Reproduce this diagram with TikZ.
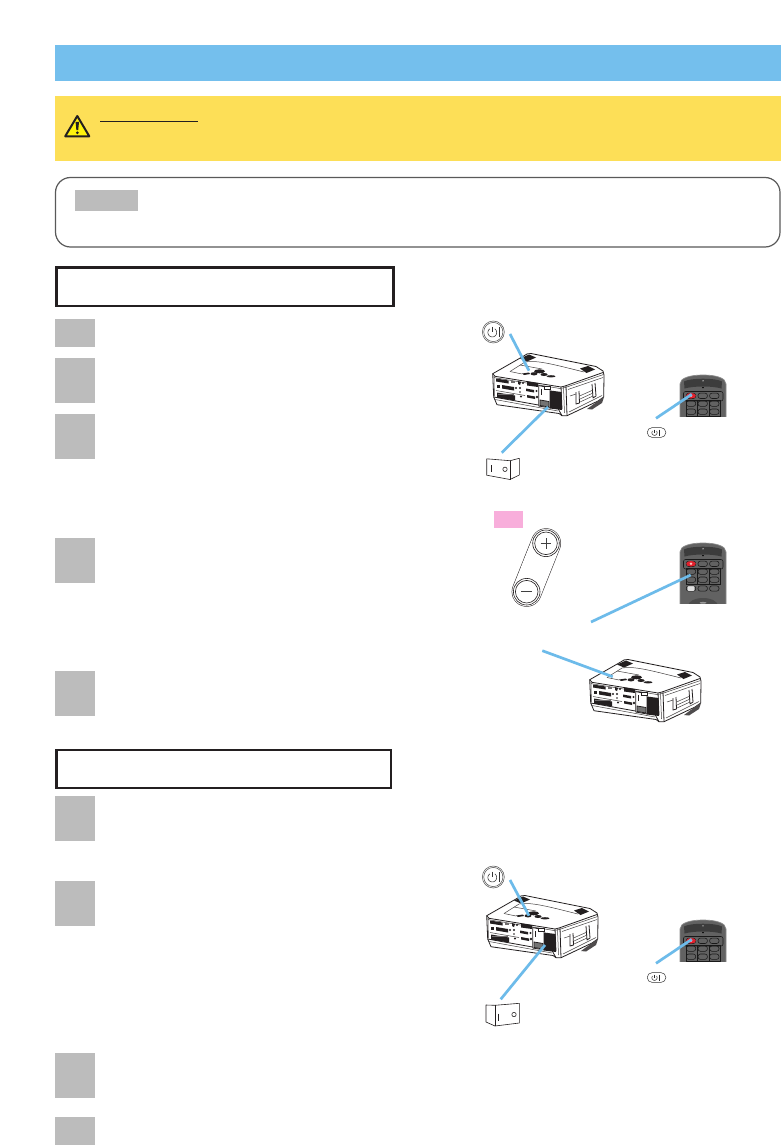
\documentclass[tikz,border=0pt]{standalone}
\definecolor{bannerblue}{HTML}{74BFED}
\definecolor{leaderblue}{HTML}{6DBBEA}
\definecolor{warnyellow}{HTML}{FDDF57}
\definecolor{stepgray}{HTML}{BCBCBC}
\definecolor{tagpink}{HTML}{F8AEDB}
\definecolor{inkdark}{HTML}{231F20}
\definecolor{remotebody}{HTML}{626262}
\definecolor{remotecap}{HTML}{3C3C3C}
\definecolor{remotered}{HTML}{E2202C}
\tikzset{
  band/.style={draw=none},
  stepbox/.style={fill=stepgray,draw=none},
  framebox/.style={draw=inkdark,line width=2.6pt,fill=white},
  notebox/.style={draw=black!65,line width=1.2pt,rounded corners=15pt,fill=white},
  leader/.style={draw=leaderblue,line width=2.7pt},
  ink/.style={draw=inkdark,line width=.8pt,line join=round},
  thinink/.style={draw=inkdark!85,line width=.5pt,line join=round},
  solidink/.style={fill=inkdark,draw=none},
  greyink/.style={fill=inkdark!65,draw=none},
  rkey/.style={draw=black!90,line width=.55pt,rounded corners=2.4pt},
}
\newcommand{\projector}[2]{%
\begin{scope}[shift={(#1,#2)}]
  % body silhouette
  \path[ink,fill=white] (.7,20.7) -- (31.7,3) .. controls (34,1) and (36,.3) .. (39,.5) -- (104,13.5) -- (111,18) -- (112,22) -- (111.7,44) -- (106,48) -- (75,62.7) -- (70,62.7) -- (67,60.5) -- (5,51.7) -- (1.7,44) -- cycle;
  % rim
  \draw[ink] (.7,20.7) -- (3,23.3) -- (69,34) -- (73,33) -- (111,19.5);
  \draw[thinink] (1.5,23) -- (3,24.8) -- (68,35.5) -- (73,34.6) -- (111.5,21.5);
  \draw[ink] (1.7,44) -- (66,55.5) -- (70,62.7);
  \draw[thinink] (3,46.5) -- (66,58);
  \draw[thinink] (2,24) -- (2.4,43);
  \draw[ink] (69,34) -- (70,56);
  \draw[ink] (74,33) -- (75,62.7);
  \draw[thinink] (76,36.5) -- (111,24.5);
  \draw[thinink] (77,59) -- (110,42.5);
  \draw[thinink] (71.5,34) -- (72.5,60);
  % top face details
  \draw[thinink] (18,18.5) -- (33,9) .. controls (45,7) and (60,11) .. (92,19);
  \draw[thinink] (18,18.5) -- (30,21);
  \draw[thinink] (28,12) -- (50,16);
  \path[solidink] (28,5.5) -- (37,1.5) -- (44,4.5) -- (35,8.5) -- cycle;
  \path[solidink] (88,15.5) -- (96,13) -- (103,16.5) -- (94.5,20) -- cycle;
  % control cluster on top
  \path[solidink] (42,20.8) ellipse (3.5 and 1.6);
  \path[solidink] (47.5,18.3) ellipse (5.5 and 2);
  \path[solidink] (52,21.5) ellipse (3.5 and 1.5);
  \path[solidink] (59,23.3) ellipse (4.5 and 1.1);
  \path[solidink] (30,20.5) -- (37,19.5) -- (38,21) -- (32,22) -- cycle;
  % connector panel
  \path[solidink] (4,25.5) -- (16.5,27.5) -- (16.5,30.5) -- (4,28.5) -- cycle;
  \path[greyink] (19,28) rectangle (23,30);
  \path[solidink] (5,32) rectangle (7.5,34.5);
  \path[solidink] (10,32) -- (22,34) -- (22,37.5) -- (10,35.5) -- cycle;
  \path[solidink] (24,35) circle (1.2);
  \path[solidink] (26,28) -- (29,29) -- (28,32) -- (26,31) -- cycle;
  \path[solidink] (31,30) circle (1.1);
  \path[solidink] (28,35) circle (1.1);
  \path[solidink] (35,28.5) -- (46,30) -- (46,34) -- (35,32.5) -- cycle;
  \path[solidink] (34,35.5) -- (42,37) -- (42,39.5) -- (34,38) -- cycle;
  \path[solidink] (44.5,38) circle (1.2);
  \path[solidink] (5,39.5) -- (23,42.5) -- (23,47.5) -- (5,44.7) -- cycle;
  \path[greyink] (6,41) rectangle (22,41.6);
  \path[solidink] (29,43.5) circle (1.1);
  \path[solidink] (35,42) -- (43,43.5) -- (43,46) -- (35,44.5) -- cycle;
  \path[solidink] (45,44) circle (1.4);
  \path[solidink] (28,39) circle (.9);
  \draw[thinink] (4,37.5) -- (33,42.5);
  % power inlet and vent
  \path[ink,fill=white] (46.7,32.5) -- (58,35) -- (58,55) -- (46.7,53) -- cycle;
  \draw[ink] (49,36) -- (49,41.5);
  \path[ink,fill=black!55] (48,47) -- (57,48.5) -- (57,54) -- (48,52.5) -- cycle;
  \path[draw=inkdark,line width=.5pt,fill=white] (52,32.8) rectangle (58,36);
  \path[solidink] (58,37.5) -- (69.5,39) -- (70,57) -- (58,55.5) -- cycle;
  % side handle
  \draw[ink] (84,39) -- (84,51) -- (87.5,50) -- (87,38);
  \draw[ink] (100,31) -- (101,45) -- (104,43) -- (103,30);
  \draw[thinink] (87.5,43) -- (101,37);
  \draw[thinink] (88,46) -- (101,40);
  \draw[thinink] (88,49) -- (101,43);
  \draw[thinink] (78,43) -- (84,41);
  \path[fill=inkdark!80] (95,56) -- (110,45) -- (112,44) -- (110,50) -- (100,56.5) -- cycle;
\end{scope}}
\newcommand{\remote}[3]{%
\begin{scope}[shift={(#1,#2)}]
  \clip (-1,-1) rectangle (47,#3);
  \path[draw=black!45,line width=.7pt,fill=remotebody]
     (0,70) -- (0,9) .. controls (0,3) and (10,0) .. (23,0) .. controls (36,0) and (46,3) .. (46,9) -- (46,70) -- cycle;
  \path[fill=remotecap] (4.5,13.5) -- (4,6.5) .. controls (10,2.8) and (36,2.8) .. (42,6.5) -- (41.5,13.5) .. controls (32,10.8) and (14,10.8) .. (4.5,13.5) -- cycle;
  \path[fill=white!70!black] (23,5.8) circle (.8);
  \path[fill=black] (23,12.5) circle (.9);
  \draw[black!90,line width=.55pt,rounded corners=2pt] (3.5,16.5) rectangle (43,26);
  \draw[black!90,line width=.55pt] (6.3,25) rectangle (40.5,41.2);
  \draw[black!90,line width=.55pt] (17.5,25) -- (17.5,41.2) (29,25) -- (29,41.2);
  \foreach \ky in {20.8,28.6,36.7,45.5}{
    \foreach \kx in {11,22.7,34.3}{
      \path[rkey] (\kx-4.7,\ky-2.7) rectangle (\kx+4.7,\ky+2.7);
    }
  }
  \path[fill=remotered] (11,20.8) ellipse (4.8 and 2.8);
  \path[fill=white!75!red] (11,20.8) ellipse (1.4 and 1.4);
  \path[draw=black!80,line width=.4pt,fill=white!88!black,rounded corners=1.2pt] (7.2,42.8) rectangle (14.8,48.2);
  \path[fill=black!70] (23,63) ellipse (15 and 8);
  \path[fill=black!40] (23,59.8) ellipse (3.5 and .9);
\end{scope}}
\newcommand{\bigpower}[2]{%
\begin{scope}[shift={(#1,#2)},x=1pt,y=1pt]
  \draw[black!70,line width=.5pt,fill=white] (0,0) circle (11);
  \draw[black!70,line width=.5pt] (0,0) circle (9.6);
  \draw[black!80,line width=.55pt] plot[smooth,samples=30,domain=35:325,variable=\t] ({-1+4.4*sin(\t)},{-.5+4.4*cos(\t)});
  \draw[black!80,line width=.55pt] (-1,5.4) -- (-1,-.3);
  \draw[black!80,line width=.55pt] (6.2,-5) -- (6.2,5);
\end{scope}}
\newcommand{\smallpower}[2]{%
\begin{scope}[shift={(#1,#2)},x=1pt,y=1pt]
  \draw[black!80,line width=.5pt,rounded corners=4.6pt,fill=white] (0,0) rectangle (18.5,-9.6);
  \draw[black!85,line width=.5pt] plot[smooth,samples=25,domain=50:310,variable=\t] ({7.2+2.6*sin(\t)},{-5+2.6*cos(\t)});
  \draw[black!85,line width=.5pt] (7.2,-1.8) -- (7.2,-5);
  \draw[black!85,line width=.5pt] (11.5,-2) -- (11.5,-7.8);
\end{scope}}
\begin{document}
\begin{tikzpicture}[x=1pt,y=-1pt]
\useasboundingbox (0,0) rectangle (781,1145);
\path[fill=white] (0,0) rectangle (781,1145);
% header bands
\path[band,fill=bannerblue] (55,45) rectangle (781,81);
\path[band,fill=warnyellow] (55,96) rectangle (781,161);
\path[draw=inkdark,line width=2pt,line join=round,fill=yellow!95!white] (77.3,116) -- (65.2,136.3) -- (89.3,136.3) -- cycle;
\path[fill=inkdark] (75.6,122) -- (79,122) -- (78.2,130.2) -- (76.4,130.2) -- cycle;
\path[fill=inkdark] (77.3,132.8) circle (1.5);
\draw[inkdark,line width=.9pt] (100,121) -- (197.7,121);
% note box
\path[notebox] (55.5,177.5) rectangle (780,247);
\path[band,fill=stepgray] (75,190) rectangle (138,211);
% section frames
\path[framebox] (56.3,267.5) rectangle (393.7,306);
\path[framebox] (56.3,750) rectangle (391,788);
% step blocks
\foreach \ya/\yb in {319/347,358/403,414/459,538/583,671/716,796/841,881/926,1053/1098,1117/1145}{
  \path[stepbox] (55,\ya) rectangle (95,\yb);
}
% projectors
\projector{492}{353}
\projector{589}{659}
\projector{486}{895}
% remotes
\remote{680}{375}{41}
\remote{680}{543}{60}
\remote{680}{920}{41.5}
% power icons
\bigpower{493.3}{332}
\bigpower{493.3}{877}
\smallpower{647.3}{427.7}
\smallpower{647.3}{972.7}
% rocker switch, first
\path[ink,line width=.6pt,fill=white] (486.7,458.8) -- (510,460.7) -- (519.3,458.3) -- (519.3,475) -- (510,479.5) -- (486.7,475.2) -- cycle;
\draw[ink,line width=.6pt] (510,460.7) -- (510,479.5);
\draw[ink,line width=.6pt] (491,465) -- (491,471.5);
\draw[ink,line width=.6pt] (505,469.3) circle (2.2);
% rocker switch, second
\path[ink,line width=.6pt,fill=white] (486,1005) -- (495,1005.3) -- (519.3,1003.3) -- (519.3,1023) -- (495,1026) -- (486,1022) -- cycle;
\draw[ink,line width=.6pt] (495,1005.3) -- (495,1026);
\draw[ink,line width=.6pt] (498.5,1013.5) -- (498.5,1021);
\draw[ink,line width=.6pt] (514,1014.5) circle (2.2);
% zoom rocker
\path[band,fill=tagpink] (494,511) rectangle (523,528);
\coordinate (zp) at (546,543.3);
\coordinate (zm) at (526.7,591.7);
\draw[inkdark,line width=30pt,line cap=round] (zp) -- (zm);
\draw[white,line width=29pt,line cap=round] (zp) -- (zm);
\foreach \c in {zp,zm}{
  \draw[inkdark,line width=.6pt] (\c) circle (13.3);
  \draw[inkdark,line width=.6pt] (\c) circle (11.3);
}
\draw[black!75,line width=.6pt] (540.7,543.3) -- (551.3,543.3) (546,538) -- (546,548.6);
\draw[black!75,line width=.6pt] (521.4,591.7) -- (532,591.7);
% leaders
\coordinate (a1) at (510,334); \coordinate (a2) at (529,370.7);
\coordinate (b1) at (501.7,452.7); \coordinate (b2) at (548,407);
\coordinate (c1) at (656,418.3); \coordinate (c2) at (691.7,394.3);
\coordinate (d1) at (591,622); \coordinate (d2) at (690.7,575);
\coordinate (e1) at (542.3,650.7); \coordinate (e2) at (612.7,676.7);
\coordinate (f1) at (510,880); \coordinate (f2) at (529,915.7);
\coordinate (g1) at (500.7,999.3); \coordinate (g2) at (545,945);
\coordinate (h1) at (656,963.3); \coordinate (h2) at (691.7,939.3);
\foreach \p/\q in {a1/a2,b1/b2,c1/c2,d1/d2,e1/e2,f1/f2,g1/g2,h1/h2}{
  \draw[leader] (\p) -- (\q);
}
\end{tikzpicture}
\end{document}
